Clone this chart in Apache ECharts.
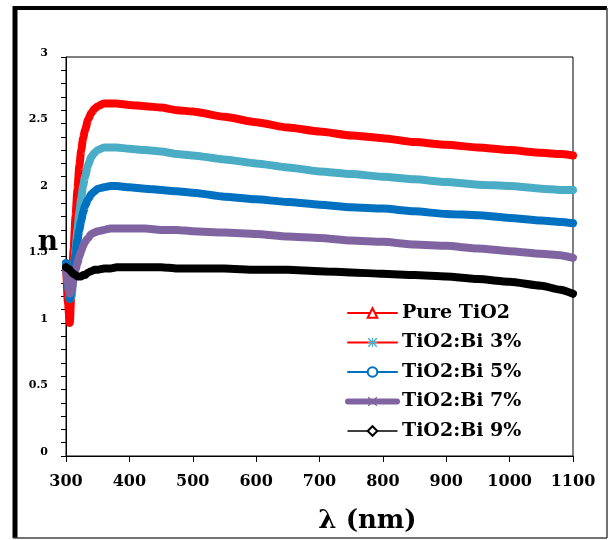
<!DOCTYPE html>
<html>
<head>
<meta charset="utf-8">
<script src="https://cdn.jsdelivr.net/npm/echarts@6/dist/echarts.min.js"></script>
<style>
html,body{margin:0;padding:0;background:#fff;}
#chart{width:610px;height:540px;}
</style>
</head>
<body>
<div id="chart"></div>
<script>
// Wavelength (nm)
const wavelengths = [300,303,306,309,312,315,318,321,324,327,330,335,340,345,350,360,370,380,400,425,450,475,500,550,600,650,700,750,800,850,900,950,1000,1050,1080,1100];
// Refractive index n for each sample
const pureTiO2 = [1.45,1.15,1.00,1.30,1.55,1.80,2.00,2.18,2.30,2.39,2.45,2.53,2.58,2.61,2.63,2.65,2.65,2.65,2.64,2.63,2.62,2.60,2.59,2.55,2.51,2.47,2.44,2.41,2.39,2.36,2.34,2.32,2.30,2.28,2.27,2.26];
const bi3 = [1.45,1.30,1.18,1.20,1.38,1.55,1.70,1.83,1.94,2.03,2.10,2.19,2.25,2.28,2.30,2.32,2.32,2.32,2.31,2.30,2.29,2.27,2.26,2.23,2.20,2.17,2.14,2.12,2.10,2.08,2.06,2.04,2.03,2.01,2.00,2.00];
const bi5 = [1.45,1.30,1.18,1.25,1.40,1.52,1.62,1.70,1.77,1.83,1.88,1.93,1.97,1.99,2.01,2.02,2.03,2.03,2.02,2.01,2.00,1.99,1.98,1.95,1.93,1.91,1.89,1.87,1.86,1.84,1.82,1.81,1.79,1.77,1.76,1.75];
const bi7 = [1.42,1.30,1.22,1.25,1.33,1.40,1.45,1.50,1.54,1.58,1.61,1.64,1.67,1.68,1.69,1.70,1.71,1.71,1.71,1.71,1.70,1.70,1.69,1.68,1.67,1.65,1.64,1.62,1.61,1.59,1.58,1.56,1.54,1.52,1.51,1.49];
const bi9 = [1.42,1.41,1.40,1.38,1.37,1.36,1.35,1.35,1.35,1.36,1.36,1.38,1.39,1.40,1.40,1.41,1.41,1.42,1.42,1.42,1.42,1.41,1.41,1.41,1.40,1.40,1.39,1.38,1.37,1.36,1.35,1.33,1.31,1.28,1.25,1.22];

const seriesNames = ['Pure TiO2','TiO2:Bi 3%','TiO2:Bi 5%','TiO2:Bi 7%','TiO2:Bi 9%'];
const seriesValues = [pureTiO2, bi3, bi5, bi7, bi9];
const colors = ['#FF0000','#4BACC6','#0070C0','#8064A2','#000000'];
const xTicks = {min:300, max:1100, interval:100};
const yTicks = {min:0, max:3, interval:0.5};

const asterisk = 'path://M4.5,0h1v10h-1z M0,4.5h10v1h-10z M1,0L10,9L9,10L0,1Z M9,0L10,1L1,10L0,9Z';
const xMark = 'path://M1,0L10,9L9,10L0,1Z M9,0L10,1L1,10L0,9Z';
const symbols = ['emptyTriangle', asterisk, 'emptyCircle', xMark, 'emptyDiamond'];

const serifB = 'DejaVu Serif';

const chart = echarts.init(document.getElementById('chart'), null, {renderer:'canvas'});

const series = seriesNames.map((name,i)=>({
  name: name,
  type: 'line',
  data: wavelengths.map((w,j)=>[w, seriesValues[i][j]]),
  symbol: symbols[i],
  showSymbol: false,
  lineStyle: {color: colors[i], width: 8, join:'round', cap:'round'},
  itemStyle: {color: colors[i]},
  smooth: 0.2,
  smoothMonotone: 'x',
  z: 2 + i
}));

const legendData = [
  {name: seriesNames[0], lineStyle:{color:'#FF0000', width:2}, itemStyle:{color:'#FF0000'}},
  {name: seriesNames[1], lineStyle:{color:'#FF0000', width:2}, itemStyle:{color:'#4BACC6'}},
  {name: seriesNames[2], lineStyle:{color:'#0070C0', width:2}, itemStyle:{color:'#0070C0'}},
  {name: seriesNames[3], lineStyle:{color:'#8064A2', width:6}, itemStyle:{color:'#8064A2'}},
  {name: seriesNames[4], lineStyle:{color:'#000000', width:1.5}, itemStyle:{color:'#000000'}}
];

chart.setOption({
  animation: false,
  backgroundColor: '#fff',
  grid: {left:66, right:37, top:57, bottom:84, show:true, borderColor:'#000', borderWidth:1, backgroundColor:'transparent'},
  legend: {
    data: legendData,
    orient: 'vertical',
    left: 340,
    top: 298,
    itemWidth: 49,
    itemHeight: 12,
    itemGap: 9.5,
    textStyle: {fontFamily: serifB, fontWeight:'bold', fontSize:19, color:'#000', lineHeight:20},
    selectedMode: false
  },
  xAxis: {
    type: 'value',
    min: xTicks.min, max: xTicks.max, interval: xTicks.interval,
    axisLine: {show:true, lineStyle:{color:'#000', width:1}},
    axisTick: {show:true, inside:false, length:6, lineStyle:{color:'#000'}},
    splitLine: {show:false},
    axisLabel: {fontFamily: serifB, fontWeight:'bold', fontSize:16, color:'#000', margin:18, formatter: v => String(v)},
    name: 'λ (nm)',
    nameLocation: 'middle',
    nameGap: 52,
    nameMoveOverlap: false,
    nameTextStyle: {fontFamily: serifB, fontWeight:'bold', fontSize:26, color:'#000', padding:[0,0,0,96]}
  },
  yAxis: {
    type: 'value',
    min: yTicks.min, max: yTicks.max, interval: yTicks.interval,
    axisLine: {show:true, lineStyle:{color:'#000', width:1}},
    axisTick: {show:true, inside:false, length:5, lineStyle:{color:'#000'}},
    minorTick: {show:true, splitNumber:5, length:5, lineStyle:{color:'#000'}},
    splitLine: {show:false},
    axisLabel: {fontFamily: serifB, fontWeight:'bold', fontSize:11, color:'#000', margin:18, verticalAlign:'bottom', lineHeight:8},
    name: 'n',
    nameLocation: 'middle',
    nameRotate: 0,
    nameGap: 8,
    nameMoveOverlap: false,
    nameTextStyle: {fontFamily: serifB, fontWeight:'bold', fontSize:28, color:'#000', verticalAlign:'bottom', lineHeight:28}
  },
  graphic: [
    {type:'line', shape:{x1:15, y1:6, x2:15, y2:538}, style:{stroke:'#000', lineWidth:5}, silent:true},
    {type:'line', shape:{x1:13, y1:8, x2:607, y2:8}, style:{stroke:'#000', lineWidth:4}, silent:true},
    {type:'line', shape:{x1:607, y1:8, x2:607, y2:538}, style:{stroke:'#444', lineWidth:1.5}, silent:true},
    {type:'line', shape:{x1:13, y1:538, x2:607, y2:538}, style:{stroke:'#444', lineWidth:1.5}, silent:true}
  ],
  series: series
});
</script>
</body>
</html>
